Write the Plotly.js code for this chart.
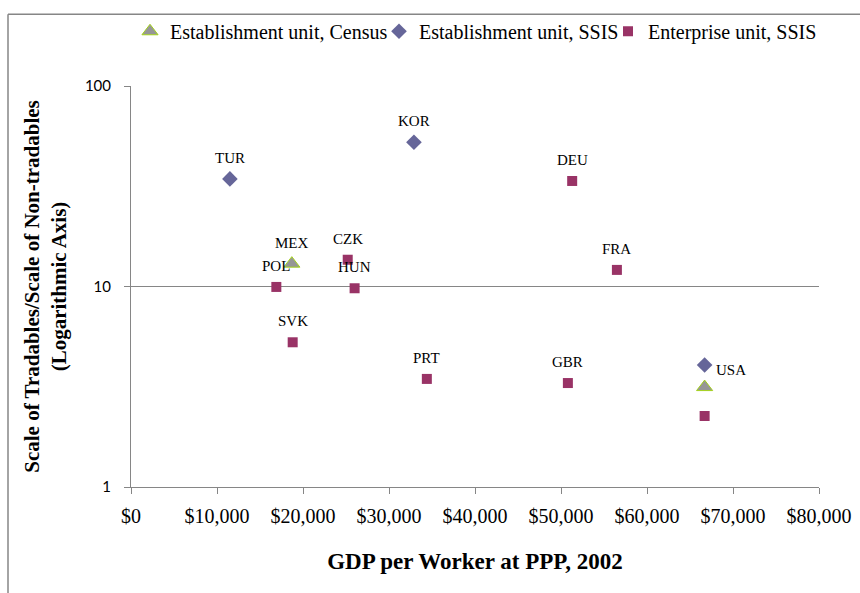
<!DOCTYPE html>
<html><head><meta charset="utf-8">
<script src="https://cdn.plot.ly/plotly-3.0.1.min.js"></script>
<style>html,body{margin:0;padding:0;background:#fff}#chart{width:860px;height:593px}</style>
</head><body><div id="chart"></div>
<script>
// Data
const seriesNames = ['Establishment unit, Census', 'Establishment unit, SSIS', 'Enterprise unit, SSIS'];

const censusCountries = ['MEX', 'USA'];
const censusGdp = [18700, 66700];
const censusRatio = [13.0, 3.15];

const estabCountries = ['TUR', 'KOR', 'USA'];
const estabGdp = [11500, 32900, 66700];
const estabRatio = [34.4, 52.4, 4.06];

const entCountries = ['POL', 'CZK', 'HUN', 'SVK', 'PRT', 'DEU', 'FRA', 'GBR', 'USA'];
const entGdp = [16900, 25200, 26000, 18800, 34400, 51300, 56500, 50800, 66700];
const entRatio = [9.95, 13.6, 9.8, 5.27, 3.46, 33.6, 12.1, 3.30, 2.26];

// which points carry a data label (USA is labelled only once)
const censusLabelled = [true, false];
const estabLabelled = [true, true, true];
const entLabelled = [true, true, true, true, true, true, true, true, false];

const xTickVals = [0, 10000, 20000, 30000, 40000, 50000, 60000, 70000, 80000];
const xTickText = xTickVals.map(v => '$' + v.toString().replace(/\B(?=(\d{3})+(?!\d))/g, ','));
const yTickVals = [1, 10, 100];
const yTickText = ['1', '10', '100'];

const serif = '"Liberation Serif", "Times New Roman", serif';
const grey = '#868686';

const traces = [
  {
    type: 'scatter', mode: 'markers', name: seriesNames[0], legend: 'legend',
    x: censusGdp, y: censusRatio, text: censusCountries, hoverinfo: 'text+x+y',
    marker: {symbol: 'triangle-up', size: 14, color: '#969696', line: {color: '#a4d21a', width: 1}}
  },
  {
    type: 'scatter', mode: 'markers', name: seriesNames[1], legend: 'legend2',
    x: estabGdp, y: estabRatio, text: estabCountries, hoverinfo: 'text+x+y',
    marker: {symbol: 'diamond', size: 12, color: '#666699', line: {width: 0}}
  },
  {
    type: 'scatter', mode: 'markers', name: seriesNames[2], legend: 'legend3',
    x: entGdp, y: entRatio, text: entCountries, hoverinfo: 'text+x+y',
    marker: {symbol: 'square', size: 10, color: '#993366', line: {width: 0}}
  }
];

const annotations = [];
function addLabels(names, xs, ys, flags) {
  names.forEach((n, i) => {
    if (!flags[i]) return;
    const right = (n === 'USA');
    annotations.push({
      x: xs[i], y: Math.log10(ys[i]), xref: 'x', yref: 'y', text: n, showarrow: false,
      xshift: right ? 26 : 0, yshift: right ? -5 : 21,
      font: {family: serif, size: 15, color: '#000'}
    });
  });
}
addLabels(censusCountries, censusGdp, censusRatio, censusLabelled);
addLabels(estabCountries, estabGdp, estabRatio, estabLabelled);
addLabels(entCountries, entGdp, entRatio, entLabelled);

const mL = 131, mR = 41, mT = 84, mB = 106;
const pw = 860 - mL - mR, ph = 593 - mT - mB;
const bx = (8 - mL) / pw, by = 1 + (mT - 12) / ph;

const legendCommon = {
  orientation: 'h', yanchor: 'middle', xanchor: 'left', bgcolor: 'rgba(0,0,0,0)', borderwidth: 0,
  font: {family: serif, size: 20, color: '#000'}, y: 1 + (mT - 29) / ph, itemwidth: 30
};

const layout = {
  width: 860, height: 593,
  margin: {l: mL, r: mR, t: mT, b: mB},
  paper_bgcolor: '#fff', plot_bgcolor: '#fff',
  showlegend: true,
  legend: Object.assign({}, legendCommon, {x: (130 - mL) / pw}),
  legend2: Object.assign({}, legendCommon, {x: (379 - mL) / pw}),
  legend3: Object.assign({}, legendCommon, {x: (608 - mL) / pw}),
  xaxis: {
    range: [0, 80000], tickvals: xTickVals, ticktext: xTickText,
    showgrid: false, zeroline: false, showline: true, linecolor: grey, linewidth: 1,
    ticks: 'outside', ticklen: 6, tickcolor: grey, ticklabelstandoff: 5,
    tickfont: {family: serif, size: 20, color: '#000'},
    title: {text: '<b>GDP per Worker at PPP, 2002</b>', font: {family: serif, size: 23, color: '#000'}, standoff: 26}
  },
  yaxis: {
    type: 'log', range: [0, 2], tickvals: yTickVals, ticktext: yTickText,
    showgrid: true, gridcolor: grey, gridwidth: 1, zeroline: false,
    showline: true, linecolor: grey, linewidth: 1,
    ticks: 'outside', ticklen: 6, tickcolor: grey, ticklabelstandoff: 10,
    tickfont: {family: 'Lato, "Liberation Sans", sans-serif', size: 15, color: '#000'},
    title: {text: '<b>Scale of Tradables/Scale of Non-tradables<br>(Logarithmic Axis)</b>', font: {family: serif, size: 21, color: '#000'}, standoff: 12}
  },
  annotations: annotations,
  shapes: [
    {type: 'line', xref: 'paper', yref: 'paper', x0: bx, x1: bx, y0: by, y1: -0.5, line: {color: grey, width: 1.5}},
    {type: 'line', xref: 'paper', yref: 'paper', x0: bx, x1: 1.2, y0: by, y1: by, line: {color: grey, width: 1.5}}
  ]
};

Plotly.newPlot('chart', traces, layout, {displayModeBar: false, staticPlot: true});
</script>
</body></html>
